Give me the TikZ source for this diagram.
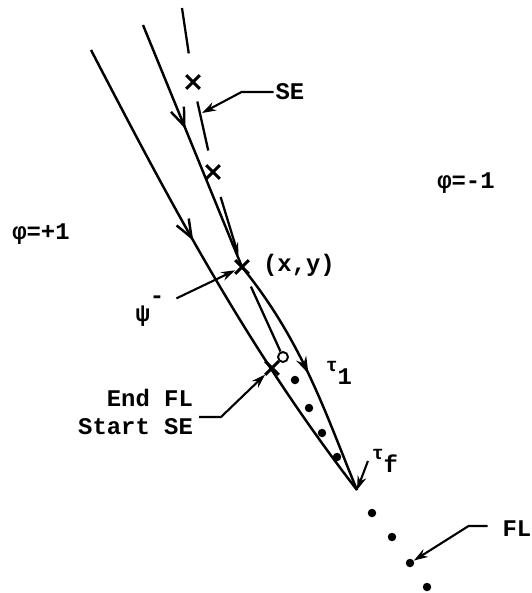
\documentclass[tikz,border=0pt]{standalone}
\usepackage{fontspec}
\setmonofont{Liberation Mono}
\usetikzlibrary{
arrows.meta,
shapes.misc,
decorations.markings
}

\begin{document}
\begin{tikzpicture}[
x=0.02cm,
y=-0.02cm,
font=\ttfamily\bfseries\fontsize{13.6}{16}\selectfont,
curve/.style={line width=1.4pt},
seg/.style={line width=1.3pt},
marker/.style={
cross out,
draw,
line width=1.8pt,
minimum size=0.21cm,
inner sep=0pt
},
ring/.style={circle, draw, line width=1.1pt, inner sep=0pt, minimum size=0.2cm},
dot/.style={circle, fill, inner sep=0pt, minimum size=0.17cm},
txt/.style={inner sep=1pt},
leader/.style={-{Stealth[length=0.28cm,width=0.18cm]}, line width=1.2pt},
midarrow/.style={postaction={decorate, decoration={markings,
mark=at position #1 with {\arrow{Straight Barb[length=0.36cm,width=0.28cm]}}}}},
tauarrow/.style={postaction={decorate, decoration={markings,
mark=at position #1 with {\arrow{Stealth[length=0.34cm,width=0.22cm]}}}}}
]
\useasboundingbox (0,0) rectangle (532,593);

\coordinate (aTop) at (91,50);
\coordinate (bTop) at (143,25);
\coordinate (seTop) at (182,8);
\coordinate (tf) at (357,490);
\coordinate (seTip) at (202,113);

\node[marker] (m1) at (193,82) {};
\node[marker] (m2) at (213,172) {};
\node[marker] (xy) at (242,267) {};
\node[marker] (endfl) at (272,368) {};
\node[ring] (ring) at (283,357) {};

\foreach \p [count=\i] in {(295,380),(309,408),(322,433),(337,457),(372,513),(392,537),(410,563),(427,587)}
  \node[dot] (d\i) at \p {};

\node[txt] (phiP) at (41,234) {φ=+1};
\node[txt] (phiM) at (466,183) {φ=-1};
\node[txt] (selab) at (290,92) {SE};
\node[txt] (xylab) at (299,265) {(x,y)};
\node[txt] (psi) at (150,311) {ψ\raisebox{0.75em}{-}};
\node[txt, align=right, anchor=east] (endtxt) at (195,412) {End FL\\Start SE};
\node[txt] (tauone) at (339,373) {\raisebox{0.55em}{\fontsize{11}{12}\selectfont τ}1};
\node[txt] (tauf) at (385,461) {\raisebox{0.55em}{\fontsize{11}{12}\selectfont τ}f};
\node[txt] (fllab) at (517,529) {FL};

\draw[curve, midarrow=0.42] (aTop) .. controls (169,200) and (245,345) .. (tf);
\draw[curve, midarrow=0.43] (bTop) -- (xy.center);
\draw[curve, tauarrow=0.5] (xy.center) .. controls (303,342) and (326,415) .. (tf);

\draw[seg, shorten >=0.44cm] (seTop) -- (m1);
\draw[seg, shorten <=0.26cm, shorten >=0.3cm] (m1) -- (m2);
\draw[seg, shorten <=0.38cm, shorten >=0.1cm, -{Stealth[length=0.26cm,width=0.14cm]}] (m2) -- (xy);
\draw[seg, shorten <=0.28cm] (xy) -- (ring);

\draw[leader, shorten <=0.22cm] (psi) -- (xy);
\draw[leader] (selab.west) -- ++(-32,0) -- (seTip);
\draw[leader] ([shift={(4,5)}]endtxt.east) -- ++(22,0) -- (endfl);
\draw[leader] ([xshift=-0.04cm]tauf.west) -- (tf);
\draw[leader, shorten <=0.26cm] ([yshift=0.06cm]fllab.west) -- ++(-32,0) -- (d7);

\end{tikzpicture}
\end{document}
